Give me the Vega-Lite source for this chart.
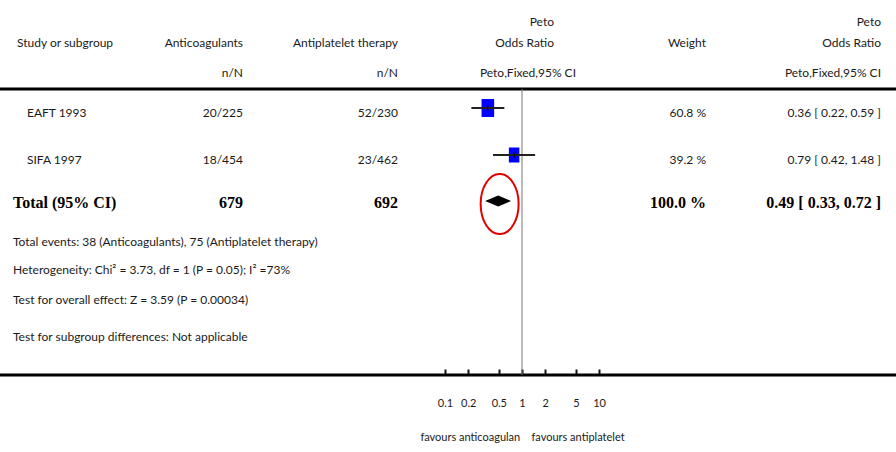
{
  "$schema": "https://vega.github.io/schema/vega-lite/v6.json",
  "width": 896,
  "height": 375,
  "autosize": {"type": "none"},
  "padding": {"left": 0, "top": 0, "right": 0, "bottom": 77},
  "background": "white",
  "config": {"view": {"stroke": null}},
  "datasets": {
    "cells": [
      {"row": 0, "col": 4, "kind": "header", "text": "Peto"},
      {"row": 0, "col": 7, "kind": "header", "text": "Peto"},
      {"row": 1, "col": 1, "kind": "headerL", "text": "Study or subgroup"},
      {"row": 1, "col": 2, "kind": "header", "text": "Anticoagulants"},
      {"row": 1, "col": 3, "kind": "header", "text": "Antiplatelet therapy"},
      {"row": 1, "col": 4, "kind": "header", "text": "Odds Ratio"},
      {"row": 1, "col": 6, "kind": "header", "text": "Weight"},
      {"row": 1, "col": 7, "kind": "header", "text": "Odds Ratio"},
      {"row": 2, "col": 2, "kind": "header", "text": "n/N"},
      {"row": 2, "col": 3, "kind": "header", "text": "n/N"},
      {"row": 2, "col": 5, "kind": "header", "text": "Peto,Fixed,95% CI"},
      {"row": 2, "col": 7, "kind": "header", "text": "Peto,Fixed,95% CI"},
      {"row": 4, "col": 1, "kind": "studyL", "text": "EAFT 1993"},
      {"row": 4, "col": 2, "kind": "study", "text": "20/225"},
      {"row": 4, "col": 3, "kind": "study", "text": "52/230"},
      {"row": 4, "col": 6, "kind": "study", "text": "60.8 %"},
      {"row": 4, "col": 7, "kind": "study", "text": "0.36 [ 0.22, 0.59 ]"},
      {"row": 5, "col": 1, "kind": "studyL", "text": "SIFA 1997"},
      {"row": 5, "col": 2, "kind": "study", "text": "18/454"},
      {"row": 5, "col": 3, "kind": "study", "text": "23/462"},
      {"row": 5, "col": 6, "kind": "study", "text": "39.2 %"},
      {"row": 5, "col": 7, "kind": "study", "text": "0.79 [ 0.42, 1.48 ]"},
      {"row": 6, "col": 1, "kind": "totalL", "text": "Total (95% CI)"},
      {"row": 6, "col": 2, "kind": "total", "text": "679"},
      {"row": 6, "col": 3, "kind": "total", "text": "692"},
      {"row": 6, "col": 6, "kind": "total", "text": "100.0 %"},
      {"row": 6, "col": 7, "kind": "total", "text": "0.49 [ 0.33, 0.72 ]"},
      {"row": 7, "col": 1, "kind": "note", "text": "Total events: 38 (Anticoagulants), 75 (Antiplatelet therapy)"},
      {"row": 8, "col": 1, "kind": "note", "text": "Heterogeneity: Chi² = 3.73, df = 1 (P = 0.05); I² =73%"},
      {"row": 9, "col": 1, "kind": "note", "text": "Test for overall effect: Z = 3.59 (P = 0.00034)"},
      {"row": 10, "col": 1, "kind": "note", "text": "Test for subgroup differences: Not applicable"}
    ],
    "studies": [
      {"study": "EAFT 1993", "row": 4, "or": 0.36, "lo": 0.22, "hi": 0.59, "weight": 60.8, "type": "study"},
      {"study": "SIFA 1997", "row": 5, "or": 0.79, "lo": 0.42, "hi": 1.48, "weight": 39.2, "type": "study"},
      {"study": "Total (95% CI)", "row": 6, "or": 0.49, "lo": 0.33, "hi": 0.72, "weight": 100, "type": "total"}
    ],
    "separators": [
      {"row": 3, "line": "header rule"},
      {"row": 11, "line": "footer rule"}
    ],
    "reference": [
      {"effect": 1, "from": 3, "to": 11}
    ]
  },
  "layer": [
    {
      "data": {"name": "separators"},
      "mark": {"type": "rule", "strokeWidth": 3, "color": "#000"},
      "encoding": {
        "y": {"field": "row", "type": "quantitative", "axis": null,
              "scale": {"domain": [0, 1, 2, 3, 4, 5, 6, 7, 8, 9, 10, 11], "range": [22, 43, 73, 89, 108, 155, 201, 242, 270, 300, 337, 375], "nice": false, "zero": false}}
      }
    },
    {
      "data": {"name": "cells"},
      "encoding": {
        "x": {"field": "col", "type": "quantitative", "axis": null,
              "scale": {"domain": [1, 2, 3, 4, 5, 6, 7], "range": [13, 243, 398, 554, 576, 706, 881], "nice": false, "zero": false}},
        "y": {"field": "row", "type": "quantitative", "axis": null},
        "text": {"field": "text"}
      },
      "layer": [
        {"transform": [{"filter": "datum.kind === 'header'"}],
         "mark": {"type": "text", "align": "right", "baseline": "middle", "font": "Lato", "fontSize": 12, "color": "#1a1a1a"}},
        {"transform": [{"filter": "datum.kind === 'headerL'"}],
         "mark": {"type": "text", "align": "left", "baseline": "middle", "dx": 4, "font": "Lato", "fontSize": 12, "color": "#1a1a1a"}},
        {"transform": [{"filter": "datum.kind === 'study'"}],
         "mark": {"type": "text", "align": "right", "baseline": "middle", "dy": 5, "font": "Lato", "fontSize": 12, "color": "#1a1a1a"}},
        {"transform": [{"filter": "datum.kind === 'studyL'"}],
         "mark": {"type": "text", "align": "left", "baseline": "middle", "dx": 14, "dy": 5, "font": "Lato", "fontSize": 12, "color": "#1a1a1a"}},
        {"transform": [{"filter": "datum.kind === 'total'"}],
         "mark": {"type": "text", "align": "right", "baseline": "middle", "dy": 2, "font": "Liberation Serif", "fontWeight": "bold", "fontSize": 16, "color": "#000"}},
        {"transform": [{"filter": "datum.kind === 'totalL'"}],
         "mark": {"type": "text", "align": "left", "baseline": "middle", "dy": 2, "font": "Liberation Serif", "fontWeight": "bold", "fontSize": 16, "color": "#000"}},
        {"transform": [{"filter": "datum.kind === 'note'"}],
         "mark": {"type": "text", "align": "left", "baseline": "middle", "font": "Lato", "fontSize": 12, "color": "#1a1a1a"}}
      ]
    },
    {
      "layer": [
        {
          "data": {"name": "reference"},
          "mark": {"type": "rule", "color": "#777", "strokeWidth": 1},
          "encoding": {
            "x": {"field": "effect", "type": "quantitative",
                  "scale": {"type": "log", "domain": [0.1, 10], "range": [445, 599], "nice": false},
                  "axis": {"values": [0.1, 0.2, 0.5, 1, 2, 5, 10], "format": "~g", "domain": false, "grid": false,
                           "tickSize": -6, "tickWidth": 2, "tickColor": "#111",
                           "labelFont": "Lato", "labelFontSize": 11, "labelColor": "#1a1a1a", "labelPadding": 34, "labelFlush": false, "labelBaseline": "middle",
                           "title": "favours anticoagulan\u00a0\u00a0\u00a0\u00a0favours antiplatelet",
                           "titleFont": "Lato", "titleFontSize": 11, "titleFontWeight": "normal", "titleColor": "#1a1a1a", "titlePadding": 23}},
            "y": {"field": "from", "type": "quantitative"},
            "y2": {"field": "to"}
          }
        },
        {
          "data": {"name": "studies"},
          "transform": [{"filter": "datum.type === 'study'"}],
          "mark": {"type": "point", "filled": true, "opacity": 1, "color": "#0000ff", "shape": "M-0.7,-1L0.7,-1L0.7,1L-0.7,1Z"},
          "encoding": {
            "x": {"field": "or", "type": "quantitative"},
            "y": {"field": "row", "type": "quantitative"},
            "size": {"field": "weight", "type": "quantitative", "legend": null, "scale": {"domain": [39.2, 60.8], "range": [225, 324]}}
          }
        },
        {
          "data": {"name": "studies"},
          "transform": [{"filter": "datum.type === 'study'"}],
          "mark": {"type": "rule", "color": "#222", "strokeWidth": 2},
          "encoding": {
            "x": {"field": "lo", "type": "quantitative"},
            "x2": {"field": "hi"},
            "y": {"field": "row", "type": "quantitative"}
          }
        },
        {
          "data": {"name": "studies"},
          "transform": [{"filter": "datum.type === 'study'"}],
          "mark": {"type": "point", "filled": false, "opacity": 1, "color": "#000", "strokeWidth": 1, "shape": "M0,-1L0,1", "size": 36},
          "encoding": {
            "x": {"field": "or", "type": "quantitative"},
            "y": {"field": "row", "type": "quantitative"}
          }
        },
        {
          "data": {"name": "studies"},
          "transform": [{"filter": "datum.type === 'total'"}],
          "mark": {"type": "point", "filled": true, "opacity": 1, "color": "#000", "shape": "M-1,0L0,-0.42L1,0L0,0.42Z", "size": 676},
          "encoding": {
            "x": {"field": "or", "type": "quantitative"},
            "y": {"field": "row", "type": "quantitative"}
          }
        },
        {
          "data": {"name": "studies"},
          "transform": [{"filter": "datum.type === 'total'"}],
          "mark": {"type": "point", "filled": false, "opacity": 1, "color": "#e00000", "strokeWidth": 2,
                   "shape": "M0.05,-0.9C0.3997,-0.9 0.683,-0.4523 0.683,0.1C0.683,0.6523 0.3997,1.1 0.05,1.1C-0.2997,1.1 -0.583,0.6523 -0.583,0.1C-0.583,-0.4523 -0.2997,-0.9 0.05,-0.9Z",
                   "size": 3600},
          "encoding": {
            "x": {"field": "or", "type": "quantitative"},
            "y": {"field": "row", "type": "quantitative"}
          }
        }
      ]
    }
  ],
  "resolve": {"scale": {"x": "independent"}, "axis": {"x": "independent"}}
}
